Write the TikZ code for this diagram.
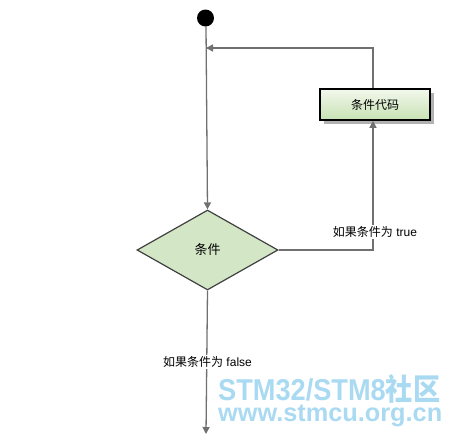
\documentclass[tikz,border=0pt]{standalone}
\usepackage{fontspec}
\setmainfont{Liberation Sans}
\newfontfamily\cjk{Noto Sans CJK SC}
\usetikzlibrary{shapes.geometric,arrows.meta,shadows}
\definecolor{linegray}{HTML}{707070}
\definecolor{boxgreenA}{HTML}{F2F8EC}
\definecolor{boxgreenB}{HTML}{C8E2B4}
\definecolor{diafill}{HTML}{D3E7C6}
\definecolor{wmblue}{HTML}{A9DAF2}
\tikzset{
  conn/.style={draw=linegray, line width=1.3pt, -{Triangle[length=7pt,width=7pt]}},
  codebox/.style={draw=black, line width=1.6pt, minimum width=110pt, minimum height=31pt,
    top color=boxgreenA, bottom color=boxgreenB, inner sep=0pt,
    drop shadow={shadow xshift=4pt, shadow yshift=-4pt, fill=gray!60, opacity=1}},
  decision/.style={diamond, draw=black!75, line width=1.2pt, fill=diafill, aspect=1.76,
    minimum width=141pt, minimum height=80pt, inner sep=0pt},
  lbl/.style={fill=white, inner sep=1pt, font=\fontsize{12}{14}\selectfont},
  wm/.style={text=wmblue, font=\bfseries, inner sep=0pt}
}
\begin{document}
\begin{tikzpicture}[x=1pt,y=-1pt]
\useasboundingbox (0,0) rectangle (450,440);
\node[circle, fill=black, minimum size=17pt, inner sep=0pt] (start) at (205.5,18) {};
\node[decision] (cond) at (207.5,250) {{\cjk\fontsize{13}{15}\selectfont 条件}};
\node[codebox] (code) at (375,104.5) {{\cjk\fontsize{12}{14}\selectfont 条件代码}};
\coordinate (join) at (206,48);
\coordinate (turn) at (373,250);
\coordinate (endpt) at (206,434);
\draw[conn] (start.south -| join) -- (cond.north);
\draw[conn] (code.north -| turn) |- (join);
\draw[conn] (cond.east) -- (turn) -- (code.south -| turn);
\draw[conn] (cond.south) -- (endpt);
\node[lbl] (ltrue) at (375,232) {{\cjk 如果条件为} true};
\node[lbl] (lfalse) at (207.5,362) {{\cjk 如果条件为} false};
\node[wm, anchor=south west] (wm1) at (218,404) {\resizebox{222pt}{26pt}{STM32/STM8{\cjk\bfseries 社区}}};
\node[wm, anchor=north west] (wm2) at (218,405) {\resizebox{224pt}{!}{www.stmcu.org.cn}};
\end{tikzpicture}
\end{document}
